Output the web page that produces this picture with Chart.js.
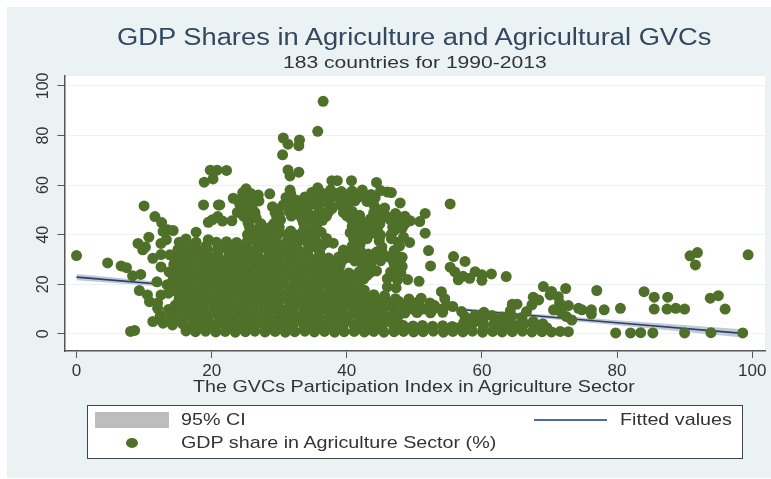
<!doctype html>
<html lang="en">
<head>
  <meta charset="utf-8">
  <title>GDP Shares in Agriculture and Agricultural GVCs</title>
  <style>
    html, body { margin: 0; padding: 0; background: #fff; }
    body { width: 771px; height: 479px; position: relative; overflow: hidden; font-family: 'Liberation Sans', sans-serif; }
    #panel { position: absolute; left: 7px; top: 7px; width: 764px; height: 471px; background: #eaf2f3; }
    #chartWrap { position: absolute; left: 0; top: 0; width: 771px; height: 479px; }
    .txt { position: absolute; white-space: nowrap; color: #333; font-size: 17px; line-height: 20px; transform-origin: left center; transform: scaleX(1.16); }
    #title { left: 117px; top: 22px; font-size: 23.5px; line-height: 30px; color: #33475f; transform: scaleX(1.162); }
    #subtitle { left: 283px; top: 53px; transform: scaleX(1.24); }
    #legend { position: absolute; left: 87px; top: 405px; width: 654px; height: 52px; background: #fff; border: 1px solid #444; }
    #ciKey { position: absolute; left: 95px; top: 412px; width: 74px; height: 16px; background: #bdbdbd; }
    #lineKey { position: absolute; left: 534px; top: 419px; width: 73px; height: 2px; background: #4f6b99; }
    #dotKey { position: absolute; left: 126px; top: 438px; width: 12px; height: 10px; border-radius: 50%; background: #4f7029; }
  </style>
</head>
<body>
  <div id="panel"></div>
  <div id="chartWrap"><canvas id="chart" width="771" height="479"></canvas></div>
  <div class="txt" id="title">GDP Shares in Agriculture and Agricultural GVCs</div>
  <div class="txt" id="subtitle">183 countries for 1990-2013</div>
  <div class="txt" style="left:193px;top:377px">The GVCs Participation Index in Agriculture Sector</div>
  <div id="legend"></div>
  <div id="ciKey"></div>
  <div id="lineKey"></div>
  <div id="dotKey"></div>
  <div class="txt" style="left:181px;top:410px">95% CI</div>
  <div class="txt" style="left:620px;top:410px">Fitted values</div>
  <div class="txt" style="left:181px;top:433px">GDP share in Agriculture Sector (%)</div>

  <script src="https://cdn.jsdelivr.net/npm/chart.js"></script>
  <script>
    const xTicks = [0, 20, 40, 60, 80, 100];
    const yTicks = [0, 20, 40, 60, 80, 100];

    const fitX  = [0, 20, 40, 60, 80, 99];
    const fitY  = [22.9, 18.3, 13.7, 9.1, 4.5, 0.1];
    const ciLow = [21.6, 17.6, 13.2, 8.5, 3.5, -1.6];
    const ciUp  = [24.2, 19, 14.2, 9.7, 5.5, 1.8];

    // [GVC index, GDP share]
    const outliers = [
      [0,31.6],[4.6,28.6],[6.6,27.4],[7.4,26.7],[8.3,23.4],[9.5,24],[8,1],[8.6,1.4],[10,51.6],[11.6,47.3],[12.6,44.9],
      [36.5,93.8],[35.7,81.7],[30.6,79],[31.3,76.5],[33,78.2],[32.9,75.9],[30.5,72.2],[31.3,66.1],[31.6,63.7],[32.9,65.2],
      [37.8,61.8],[38.6,61.8],[19.8,66],[20.8,66],[22.2,65.9],[18.9,61.2],[20.2,62.5],[18.8,52],[21.2,52],
      [55.3,52.4],[52.1,33.6],[55.8,31.2],[57.5,29.2],[52.4,27.4],[55.3,26.9],[56,25],[56.5,21.8],[59,25.1],[60,23.8],[61.4,24.2],[60,21.6],[58.2,22.4],[57.2,23.2],[63.6,23.1],
      [69.1,19.1],[70.3,17.1],[72.4,18.3],[77,17.5],[84,17],[85.5,14.8],[87.5,14.8],[93.8,14.4],[95,15.4],[96,10],[85.5,10],[87.4,10],[88.7,10.3],[90,10],[80.5,10.3],[78.1,9.7],
      [79.8,.4],[82,.4],[83.5,.5],[85.3,.4],[90,.4],[93.9,.5],[98.6,.4],[99.4,31.9],[90.8,31.5],[91.9,32.8],[91.6,27.8],
      [67.6,14.8],[68.4,13.7],[67.4,11.7],[66.6,9],[64.5,12],[65.2,12],[64.2,9.3],[70.1,15.7],[71.3,15],[71.5,12.5],[72.8,11.4],[70.6,9.7],[71.7,8.8],[72.5,7],[73.3,5.6],[74.3,10.3],[74.8,9.7],[76.2,9.7],[76.2,8]
    ];

    const lowerMass = [
      [16.2,1.2],[17.6,.9],[19.1,1.1],[20.6,.8],[22,1],[23.5,.7],[25,.9],[26.4,1.1],[27.9,.8],[29.4,1],[30.9,.7],[32.3,.9],[33.8,1.1],[35.2,.8],[36.7,1],[38.2,.7],[39.6,.9],[41.1,1],[42.6,.8],[44,1],[45.5,.7],[47,.9],[48.4,1],[49.9,.8],[51.3,.9],[52.8,1.1],[54.3,.7],[55.7,1],[57.2,.8],[58.6,1.1],[60.1,.7],[61.6,1],[63,.8],[64.5,.9],[66,1.1],[67.4,.8],[68.9,.9],[70.3,.8],[71.6,1],[72.8,.9],
      [11.3,5],[12.8,4.3],[14.2,3.6],[15.7,4],[17.2,3.7],[18.7,4.1],[20.2,3.8],[21.7,4],[23.2,3.6],[24.7,4.2],[26.2,3.9],[27.6,4],[29.1,3.7],[30.6,4.1],[32.1,3.8],[33.6,4],[35,3.6],[36.5,4.2],[38,3.9],[39.5,4],[41,3.7],[42.4,4.1],[43.9,3.8],[45.4,4],[46.9,3.7],[48.3,3.5],[49.8,3.2],[51.2,3.4],[52.7,3.1],[54.2,3.3],[55.6,3],[57.3,4.4],[58.8,4.6],[60.2,4],[61.7,3.7],[63.2,4],[64.7,3.6],[66.2,4],[67.6,3.7],[69,4.1],
      [12.4,7.4],[13.9,7],[15,6.8],[16.5,7.1],[18,6.8],[19.5,7],[21,7.2],[22.5,6.9],[24,7],[25.4,6.7],[26.9,7.1],[28.4,7],[29.9,6.8],[31.3,7.2],[32.8,6.9],[34.3,7],[35.8,6.7],[37.3,7.1],[38.8,7],[40.2,6.8],[41.7,7.2],[43.2,6.9],[44.7,7],[46.2,6.7],[47.6,7.1],[57.5,7],[59,7.6],[60.3,8.7],[61.5,7.4],[63,6.8],[64.4,7],[65.9,6.6],
      [10.8,13],[12,10.3],[13.6,9.8],[15.8,10],[17.3,10.2],[18.8,9.9],[20.3,10],[21.7,9.7],[23.2,10.2],[24.7,10],[26.2,9.8],[27.7,10.1],[29.1,10],[30.6,9.7],[32.1,10.2],[33.6,10],[35.1,9.9],[36.5,10.1],[38,9.8],[39.5,10],[41,10.2],[42.5,9.9],[43.9,10],[45.4,9.8],[46.9,10.1],[48.4,9.6],[49.9,9.9],[51.3,10],[52.7,9.8],[54.2,10.1],[55.7,11],[57,9],
      [12,12.5],[15.1,13],[16.6,12.8],[18.1,13.1],[19.6,13],[21,12.7],[22.5,13.2],[24,13],[25.5,12.9],[27,13.1],[28.4,12.8],[29.9,13],[31.4,13.2],[32.9,12.9],[34.4,13],[35.8,12.7],[37.3,13.1],[38.8,13],[40.3,12.8],[41.8,13.2],[43.2,12.9],[44.7,13],[46.2,12.8],[47.7,13.1],[49.1,12.7],[50.6,13],[52.3,12.5],[54.5,14.2],
      [9.3,17.5],[10.5,15.7],[12.5,15.7],[13.6,16.4],[15.8,16],[17.3,16.2],[18.8,15.9],[20.3,16],[21.7,15.8],[23.2,16.2],[24.7,16],[26.2,15.9],[27.7,16.1],[29.1,15.8],[30.6,16],[32.1,16.2],[33.6,15.9],[35.1,16],[36.5,15.8],[38,16.1],[39.5,16],[41,15.9],[42.5,16.1],[44,15.8],[45.6,15.4],[54,17]
    ];

    const upperMass = [
      [11.9,21],[13.4,19.8],[15.1,19],[16.6,19.2],[18.1,18.9],[19.6,19],[21,19.2],[22.5,18.9],[24,19],[25.5,19.1],[27,18.8],[28.4,19],[29.9,19.2],[31.4,18.9],[32.9,19],[34.4,19.1],[35.8,18.8],[37.3,19],[38.8,19.2],[40.3,18.9],[41.8,19],[42.6,17.6],[46,19],[47.3,18.6],
      [14.3,22],[15.8,22.1],[17.3,21.9],[18.8,22],[20.3,22.2],[21.7,21.9],[23.2,22],[24.7,22.1],[26.2,21.8],[27.7,22],[29.1,22.2],[30.6,21.9],[32.1,22],[33.6,22.1],[35.1,21.8],[36.5,22],[38,22.2],[39.5,21.9],[41,22],[42.5,22.1],[46,22.3],[47.5,21.7],[49,21.9],[50.7,21.2],
      [12.5,27],[13.7,25],[15.1,25],[16.6,25.1],[18.1,24.9],[19.6,25],[21,25.2],[22.5,24.9],[24,25],[25.5,25.1],[27,24.8],[28.4,25],[29.9,25.2],[31.4,24.9],[32.9,25],[34.4,25.1],[35.8,24.8],[37.3,25],[38.8,25.2],[40.3,24.6],[41.8,25],[43.4,24.6],[44.4,25.4],[46.5,25],[48,24.8],
      [14.4,28],[15.8,28.1],[17.3,27.9],[18.8,28],[20.3,28.2],[21.7,27.9],[23.2,28],[24.7,28.1],[26.2,27.8],[27.7,28],[29.1,28.2],[30.6,27.9],[32.1,28],[33.6,28.1],[35.1,27.8],[36.5,28],[38,28.2],[39,27.6],[42.3,28],[43.6,28.4],[47,28.2],[48.2,27.2],
      [11.3,30.5],[12.5,32],[13.8,31.9],[15.1,31],[16.6,31.1],[18.1,30.9],[19.6,31],[21,31.2],[22.5,30.9],[24,31],[25.5,31.1],[27,30.8],[28.4,31],[29.9,31.2],[31.4,30.9],[32.9,31],[34.4,31.1],[35.8,30.8],[37.3,30.6],[38.8,31],[40.2,30.8],[41.7,31.1],[43.2,30.9],[44.6,31],[46.2,31.1],[48.2,30.9],
      [9.8,33.9],[10.2,35],[15,34],[16.4,34.1],[17.9,33.9],[19.4,34],[20.9,34.2],[22.4,33.9],[23.9,34],[25.4,34.1],[26.9,33.8],[28.3,34],[29.8,34.2],[31.3,33.9],[32.8,34],[34.3,34.1],[35.7,34.4],[39.5,33.8],[41,34],[42,33.6],[44.4,33],[45.1,33.8],[47,33.6],
      [9.1,36.5],[10.7,39],[12.5,36.5],[13.3,38],[15.2,37],[16.2,38.3],[17.7,37],[19.5,38],[20.7,37],[22.2,37.2],[23.7,36.9],[25.2,37],[26.6,37.2],[28.1,36.9],[29.6,37],[31.1,37.1],[32.6,36.8],[34.1,37],[35.5,37.2],[37,36.8],[38,36.6],[41.2,37],[42,36.5],[44.8,37.4],[47.6,37],[48.4,39],[49.3,36.9],
      [12.8,41.3],[13.5,42],[14.3,41.7],[17.7,41],[25.3,40],[26.8,40.2],[28.3,39.9],[29.8,40],[31.2,40.2],[32.7,39.9],[34.2,40],[36.2,41],[40.5,40.8],[42,40],[43.5,40.4],[45,39.8],[46.6,40.2],[51.6,40.6],
      [25.6,43],[27.1,43.2],[28.6,42.9],[30,43],[33.8,43],[35.2,43.2],[40.8,43.4],[42.3,43],[43.8,43.2],[46.8,43],[48.2,42.6],
      [19.5,45],[20.1,46],[20.9,47.3],[21.6,45.5],[23,45.6],[25.3,46],[26.6,46.6],[30.2,46],[33.4,46.2],[35,46],[36.4,45.8],[40.6,46.4],[42,46],[43.5,46.4],[45,46],[46.4,46.2],[48,45.8],[49.4,45.6],[50.8,45.3],
      [23.8,49],[25.1,49.4],[26.4,49],[29.4,49],[30,48],[31.5,49.2],[33,49],[34.5,48],[36,48],[37.3,49.2],[39.5,49],[40.8,49.4],[44,49],[45.4,49],[47.2,48.6],[48.6,47.4],[51.6,48.6],
      [21,52],[24.2,52],[25.6,52.8],[29,51.3],[30.6,52],[31.8,51.3],[33.1,52],[34.6,52],[36,52.2],[37.5,51.8],[39,52],[40.2,52.4],[44,52],[47.9,52.8],
      [23.2,54.7],[24.6,55.4],[26,55],[26.9,56],[28.6,56.5],[31,55],[32.5,54],[33.8,55.2],[35,56],[36.4,55.4],[37.5,56.8],[38.8,55],[40.2,55.2],[41.6,55],[43,54.6],[44.2,55],
      [25.1,58.5],[24.6,57],[31.6,58],[35.7,58.9],[37.6,58],[39.2,57.4],[40.7,61.8],[40.8,57.6],[42.3,58],[44.4,61.1],[45,57.8],[46,57.2],[46.6,57]
    ];

    // overlapping readings that close the solid part of the cloud
    const coreFill = [
      [16.8,2.5],[18.6,2.4],[20.4,2.6],[22.4,2.5],[24.2,2.3],[26.1,2.6],[28,2.5],[29.9,2.4],[31.8,2.6],[33.7,2.5],[35.6,2.3],[37.5,2.6],[39.4,2.5],[41.3,2.4],[43.2,2.6],[45.1,2.5],[47,2.3],[48.9,2.4],[50.8,2.2],[52.6,2.1],[54.5,2.3],[56.4,2.4],[58.3,2.5],[60.2,2.3],[62.1,2.5],[64,2.4],[65.9,2.6],[67.8,2.3],[69.6,2.5],
      [15.5,5.5],[17.4,5.6],[19.3,5.4],[21.2,5.5],[23.1,5.7],[25,5.4],[26.9,5.5],[28.8,5.6],[30.7,5.4],[32.6,5.5],[34.5,5.7],[36.4,5.4],[38.3,5.5],[40.2,5.6],[42.1,5.4],[44,5.5],[45.9,5.7],[47.4,5.2],[58.2,6],[60.2,6],[62.2,5.6],[64,5.5],[66,5.3],[67.6,5],
      [14.8,8.6],[16.7,8.4],[18.6,8.5],[20.5,8.7],[22.4,8.4],[24.3,8.5],[26.2,8.6],[28.1,8.4],[30,8.5],[31.9,8.7],[33.8,8.4],[35.7,8.5],[37.6,8.6],[39.5,8.4],[41.4,8.5],[43.3,8.7],[45.2,8.4],[47.1,8.5],[48.6,8.4],[50.4,8.6],[52.4,8.5],[54.2,8.7],
      [14.6,11.5],[16.5,11.6],[18.4,11.4],[20.3,11.5],[22.2,11.7],[24.1,11.4],[26,11.5],[27.9,11.6],[29.8,11.4],[31.7,11.5],[33.6,11.7],[35.5,11.4],[37.4,11.5],[39.3,11.6],[41.2,11.4],[43.1,11.5],[45,11.7],[46.9,11.4],[48.8,11.5],[50.7,11.6],[53,11.4],[54.8,11.6],
      [15.2,14.5],[17.1,14.4],[19,14.6],[20.9,14.5],[22.8,14.3],[24.7,14.6],[26.6,14.5],[28.5,14.4],[30.4,14.6],[32.3,14.5],[34.2,14.3],[36.1,14.6],[38,14.5],[39.9,14.4],[41.8,14.6],[43.7,14.5],[45.3,14],[47.2,14.2],[49.2,14.1],[51,14.4],
      [14.6,17.5],[16.5,17.6],[18.4,17.4],[20.3,17.5],[22.2,17.7],[24.1,17.4],[26,17.5],[27.9,17.6],[29.8,17.4],[31.7,17.5],[33.6,17.7],[35.5,17.4],[37.4,17.5],[39.3,17.6],[41.2,17.4],
      [15.2,20.5],[17.1,20.4],[19,20.6],[20.9,20.5],[22.8,20.3],[24.7,20.6],[26.6,20.5],[28.5,20.4],[30.4,20.6],[32.3,20.5],[34.2,20.3],[36.1,20.6],[38,20.5],[39.9,20.4],[41.8,20.6],
      [14.6,23.5],[16.5,23.6],[18.4,23.4],[20.3,23.5],[22.2,23.7],[24.1,23.4],[26,23.5],[27.9,23.6],[29.8,23.4],[31.7,23.5],[33.6,23.7],[35.5,23.4],[37.4,23.5],[39.3,23.6],[41.2,23.4],[43,23.6],[47,23.6],
      [15.2,26.5],[17.1,26.4],[19,26.6],[20.9,26.5],[22.8,26.3],[24.7,26.6],[26.6,26.5],[28.5,26.4],[30.4,26.6],[32.3,26.5],[34.2,26.3],[36.1,26.6],[38,26.5],[43,26.6],[47.4,26.4],
      [14.6,29.5],[16.5,29.6],[18.4,29.4],[20.3,29.5],[22.2,29.7],[24.1,29.4],[26,29.5],[27.9,29.6],[29.8,29.4],[31.7,29.5],[33.6,29.7],[35.5,29.4],[37.4,29.5],[39.3,29.6],[41.2,29.4],[43.1,29.6],[45,29.5],[46.8,29.8],
      [15.2,32.5],[17.1,32.4],[19,32.6],[20.9,32.5],[22.8,32.3],[24.7,32.6],[26.6,32.5],[28.5,32.4],[30.4,32.6],[32.3,32.5],[34.2,32.3],[36,32.6],[39.6,32.4],[41.4,32.5],[43.2,32.2],[45.3,32.5],[47.2,32.4],
      [15.4,35.5],[17.3,35.6],[19.2,35.4],[21.1,35.5],[23,35.7],[24.9,35.4],[26.8,35.5],[28.7,35.6],[30.6,35.4],[32.5,35.5],[34.4,35.7],[36.3,35.4],[40.8,35.5],[41.8,35.2],[45.2,35],[47.8,35.4],
      [25.8,38.5],[27.6,38.6],[29.5,38.4],[31.4,38.5],[33.3,38.7],[35.2,38.4],[37,38.5],[41,38.5],[43,38.4],[44.8,38.6],[46.6,38.4],
      [26,41.5],[27.9,41.6],[29.8,41.4],[31.7,41.5],[33.6,41.7],[35,41.4],[41.4,41.6],[43.3,41.5],[44.6,41.2],[47,41.6],
      [25.4,44.6],[27.3,44.4],[29.2,44.5],[33.6,44.6],[35.6,44.4],[41,44.5],[43,44.6],[44.9,44.4],[46.8,44.6],[48.6,44.4],
      [24.7,47.5],[26.4,47.8],[29.6,47.5],[31.8,47.5],[33.2,47.4],[35.2,47.6],[37,47.5],[40,47.6],[41.9,47.8],[43.9,47.5],[45.8,47.6],[47.6,47.4],
      [24.9,50.6],[26,50.8],[29.9,50.4],[32.4,50.5],[34,50.6],[35.9,50.4],[37.8,50.5],[39.6,50.6],[44.4,50.4],[45.6,50.8],
      [24,53.4],[25.5,53.6],[27,53.6],[31.5,53.5],[33.6,53.5],[35.5,53.6],[37.4,53.4],[39.3,53.5],[41.2,53.6],[43,53.4],
      [25.8,56.6],[31.7,56.5],[34.8,57],[36.2,57],[38.4,56.6],[40.3,56.4],[42.2,56.6],[43.6,56.2]
    ];

    const toXY = (xs, ys) => xs.map((x, i) => ({ x, y: ys[i] }));
    const sharePoints = outliers.concat(lowerMass, upperMass, coreFill).map(p => ({ x: p[0], y: p[1] }));

    const plotBg = {
      id: 'plotBg',
      beforeDraw(c) {
        const a = c.chartArea;
        c.ctx.fillStyle = '#fff';
        c.ctx.fillRect(a.left, a.top, a.width, a.height);
      }
    };

    new Chart(document.getElementById('chart'), {
      type: 'scatter',
      data: {
        datasets: [
          { data: sharePoints, pointStyle: 'circle', pointRadius: 5.5, pointBorderWidth: 0, pointBackgroundColor: '#4f7029', order: 0 },
          { data: toXY(fitX, fitY), showLine: true, pointRadius: 0, borderColor: '#24406e', borderWidth: 1.6, order: 1 },
          { data: toXY(fitX, ciUp), showLine: true, pointRadius: 0, borderWidth: 0, backgroundColor: '#c3c8d2', fill: '+1', order: 2 },
          { data: toXY(fitX, ciLow), showLine: true, pointRadius: 0, borderWidth: 0, order: 3 }
        ]
      },
      options: {
        responsive: false,
        animation: false,
        layout: { padding: { left: 0, right: 6, top: 76, bottom: 0 } },
        plugins: { legend: { display: false }, tooltip: { enabled: false }, title: { display: false } },
        scales: {
          x: {
            type: 'linear',
            min: -1.78,
            max: 101.9,
            afterBuildTicks: s => { s.ticks = xTicks.map(value => ({ value })); },
            afterFit: s => { s.height = 128; },
            grid: { drawOnChartArea: false, tickLength: 7, tickColor: '#555' },
            border: { color: '#555', width: 1.5 },
            ticks: { color: '#333', padding: 3, maxRotation: 0, font: { family: 'Liberation Sans', size: 17 } }
          },
          y: {
            min: -6.9,
            max: 104,
            afterBuildTicks: s => { s.ticks = yTicks.map(value => ({ value })); },
            afterFit: s => { s.width = 64.5; },
            grid: { color: '#eaf2f3', tickLength: 7, tickColor: '#555' },
            border: { color: '#555', width: 1.5 },
            ticks: { color: '#333', padding: 1, minRotation: 90, maxRotation: 90, crossAlign: 'center', font: { family: 'Liberation Sans', size: 16 } }
          }
        }
      },
      plugins: [plotBg]
    });
  </script>
</body>
</html>
